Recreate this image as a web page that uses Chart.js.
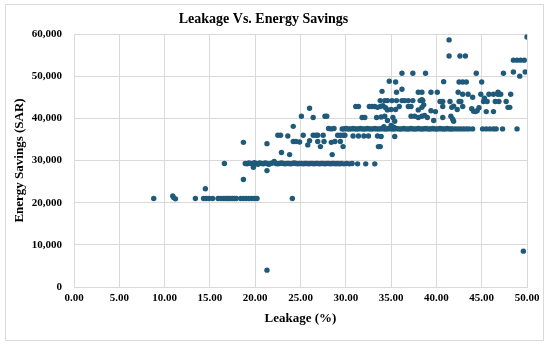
<!DOCTYPE html>
<html>
<head>
<meta charset="utf-8">
<script src="https://cdn.jsdelivr.net/npm/chart.js@4"></script>
<style>
  html,body{margin:0;padding:0;background:#fff;}
  #wrap{position:relative;width:550px;height:347px;}
  #frame{position:absolute;left:5px;top:4px;width:539px;height:337px;border:1px solid #d9d9d9;box-sizing:border-box;}
  canvas{position:absolute;left:0;top:0;}
</style>
</head>
<body>
<div id="wrap"><div id="frame"></div><canvas id="c" width="550" height="347"></canvas></div>
<script>
// ---- data (Leakage %, Energy Savings SAR) ----
const band21k = [[8.8,21000],[10.9,21600],[11.0,21200],[11.2,20900],[13.4,21000],[14.3,21000],[14.6,21000],[14.9,21000],[15.3,21000],[15.9,21000],[16.2,21000],[16.5,21000],[16.7,21000],[16.9,21000],[17.1,21000],[17.3,21000],[17.5,21000],[17.7,21000],[17.9,21000],[18.4,21000],[18.7,21000],[19.0,21000],[19.3,21000],[19.6,21000],[19.9,21000],[20.2,21000],[24.1,21000],[14.5,23300]];
const band29k = [[18.9,29300],[19.1,29200],[19.3,29400],[19.5,29300],[19.7,29200],[19.9,29500],[20.1,29300],[20.3,29100],[20.5,29400],[20.7,29300],[20.9,29200],[21.1,29400],[21.3,29300],[21.5,29100],[21.7,29300],[21.9,29400],[22.1,29800],[22.3,29300],[22.5,29200],[22.7,29300],[22.9,29400],[23.1,29300],[23.3,29200],[23.5,29300],[23.7,29300],[23.9,29200],[24.1,29300],[24.3,29400],[24.5,29300],[24.7,29200],[24.9,29300],[25.1,29300],[25.3,29200],[25.5,29300],[25.7,29300],[25.9,29200],[26.1,29300],[26.3,29300],[26.5,29200],[26.7,29300],[26.9,29300],[27.1,29200],[27.3,29300],[27.5,29300],[27.7,29200],[27.9,29300],[28.1,29300],[28.3,29200],[28.5,29300],[28.7,29300],[28.9,29200],[29.1,29300],[29.3,29200],[29.5,29300],[29.8,29200],[30.1,29300],[30.4,29200],[30.7,29300],[31.3,29200],[32.2,29200],[33.2,29200],[16.6,29300],[19.8,28400],[21.3,27600]];
const band37k = [[28.1,37600],[28.4,37500],[28.7,37600],[29.6,37500],[29.8,37500],[30.0,37600],[30.2,37500],[30.4,37500],[30.6,37500],[30.8,37600],[31.0,37500],[31.2,37500],[31.4,37500],[31.6,37600],[31.8,37500],[32.0,37500],[32.2,37500],[32.4,37600],[32.6,37500],[32.8,37500],[33.0,37500],[33.2,37600],[33.4,37500],[33.6,37500],[33.8,37500],[34.0,37600],[34.2,37500],[34.4,37500],[34.6,37500],[34.8,37600],[35.0,37500],[35.2,37500],[35.4,37500],[35.6,37600],[35.8,37500],[36.0,37500],[36.2,37500],[36.4,37600],[36.6,37500],[36.8,37500],[37.0,37500],[37.2,37600],[37.4,37500],[37.6,37500],[37.8,37500],[38.0,37600],[38.2,37500],[38.4,37500],[38.6,37500],[38.8,37600],[39.0,37500],[39.2,37500],[39.4,37500],[39.6,37600],[39.8,37500],[40.0,37500],[40.2,37500],[40.4,37600],[40.6,37500],[40.8,37500],[41.0,37500],[41.2,37600],[41.4,37500],[41.6,37500],[41.8,37500],[42.1,37500],[42.4,37500],[42.7,37500],[43.0,37500],[43.3,37500],[43.6,37500],[44.0,37500],[45.1,37500],[45.5,37500],[45.9,37500],[46.3,37500],[46.6,37500],[47.3,37500],[48.9,37500]];
const scatter35k = [[22.5,36000],[22.8,36000],[23.6,35800],[25.3,36000],[26.4,36000],[26.7,36000],[26.9,36000],[27.5,36000],[29.1,36000],[29.4,36000],[29.7,36000],[29.9,36000],[30.8,35800],[31.4,35800],[32.0,35800],[32.5,35800],[33.5,35800],[33.9,35700],[35.4,35700],[24.2,34500],[24.5,34500],[24.9,34400],[26.0,34700],[26.9,34500],[27.6,34500],[28.4,34300],[28.8,34500],[29.4,34500],[25.8,33700],[27.2,33300],[29.7,33300],[33.6,33300],[33.8,33300],[21.3,34000],[18.7,34300],[22.9,31900],[23.8,31400],[28.5,31400],[18.7,25500]];
const scatter40k = [[24.2,38100],[25.1,40500],[26.4,40200],[27.7,40500],[27.9,40500],[31.8,40200],[32.1,40200],[33.4,40200],[33.9,40300],[34.3,40500],[34.6,39500],[35.2,40200],[35.4,39300],[34.2,38000],[35.0,38300],[35.3,37900],[37.2,40500],[37.6,40500],[38.0,40200],[38.4,40500],[38.7,40700],[39.0,40200],[39.7,39500],[40.7,40200],[41.6,40500],[41.8,39800],[41.9,39300]];
const scatter43k = [[26.0,42400],[31.1,42800],[31.4,42800],[32.6,42800],[32.9,42800],[33.2,42800],[33.5,42600],[33.8,42800],[34.1,43000],[34.4,42500],[34.6,42000],[35.0,42100],[35.5,42100],[35.9,42800],[36.9,42800],[37.2,42800],[38.0,42000],[38.4,42600],[38.6,43200],[39.4,41800],[39.9,41600],[40.7,42800],[41.7,42600],[41.9,42900],[42.3,42100],[42.9,42800],[43.9,42300],[44.1,41700],[44.3,41600],[44.5,41800],[44.7,42500],[45.5,41600],[46.3,41600],[47.9,42600],[48.1,42600],[33.8,44200],[34.3,44200],[34.6,44200],[35.1,44200],[35.6,44200],[36.2,44200],[36.5,44200],[36.9,44200],[37.4,44200],[38.2,44200],[38.4,44400],[38.5,44200],[40.4,44000],[40.7,44000],[41.5,44000],[42.5,44000],[42.7,44000],[45.2,44000],[45.6,44000],[46.5,44000],[46.9,44000],[47.7,44000]];
const scatterHigh = [[34.0,46400],[35.6,46200],[36.2,46900],[38.0,46200],[38.4,46200],[39.4,46200],[40.1,46200],[42.4,46200],[42.9,45700],[43.5,45700],[44.0,45000],[44.9,45700],[45.3,44800],[45.8,45700],[46.3,45700],[46.8,45700],[46.8,46200],[47.1,45700],[48.2,45700],[34.8,48800],[35.5,48600],[40.8,48700],[42.5,48600],[42.9,48600],[43.3,48600],[45.0,48600],[36.2,50700],[37.4,50700],[38.8,50700],[44.4,50700],[47.4,50700],[48.5,51000],[49.2,50000],[49.8,51000],[41.4,58600],[41.4,54800],[42.6,54800],[43.2,54800],[48.5,53800],[48.9,53800],[49.3,53800],[49.7,53800],[50.0,59300]];
const outliers = [[21.3,4000],[49.6,8500]];

const xTicks = [0,5,10,15,20,25,30,35,40,45,50];
const yTicks = [0,10000,20000,30000,40000,50000,60000];

const allPoints = [].concat(band21k, band29k, band37k, scatter35k, scatter40k, scatter43k, scatterHigh, outliers)
  .map(p => ({x: p[0], y: p[1]}));

const serif = "'Liberation Serif', 'Times New Roman', serif";
const grid = '#d9d9d9';

new Chart(document.getElementById('c'), {
  type: 'scatter',
  data: { datasets: [{
    data: allPoints,
    backgroundColor: '#1f5a7a',
    borderWidth: 0,
    pointRadius: 2.7,
    pointHoverRadius: 2.7
  }]},
  options: {
    responsive: false,
    animation: false,
    events: [],
    layout: { padding: { left: 0, right: 23, top: 0, bottom: 0 } },
    plugins: {
      legend: { display: false },
      tooltip: { enabled: false },
      title: {
        display: true,
        text: 'Leakage Vs. Energy Savings',
        color: '#000',
        font: { family: serif, size: 14, weight: 'bold' },
        padding: { top: 10.6, bottom: 6.6 }
      }
    },
    scales: {
      x: {
        type: 'linear',
        min: xTicks[0], max: xTicks[xTicks.length-1],
        afterBuildTicks: s => { s.ticks = xTicks.map(v => ({value: v})); },
        afterFit: s => { s.height = 60; },
        grid: { color: grid, drawTicks: false },
        border: { color: grid },
        ticks: { padding: 4.5, color: '#000', font: { family: serif, size: 11, weight: 'bold' },
                 callback: v => Number(v).toFixed(2), maxRotation: 0 },
        title: { display: true, text: 'Leakage (%)', color: '#000',
                 font: { family: serif, size: 13, weight: 'bold' }, padding: { top: 0, bottom: 20.2 } }
      },
      y: {
        type: 'linear',
        min: yTicks[0], max: yTicks[yTicks.length-1],
        afterBuildTicks: s => { s.ticks = yTicks.map(v => ({value: v})); },
        afterFit: s => { s.width = 74; },
        grid: { color: grid, drawTicks: false },
        border: { color: grid },
        ticks: { padding: 12, color: '#000', font: { family: serif, size: 11, weight: 'bold' },
                 callback: v => Number(v).toLocaleString('en-US') },
        title: { display: true, text: 'Energy Savings (SAR)', color: '#000',
                 font: { family: serif, size: 13, weight: 'bold' }, padding: { top: 12.2, bottom: 0 } }
      }
    }
  }
});
</script>
</body>
</html>
